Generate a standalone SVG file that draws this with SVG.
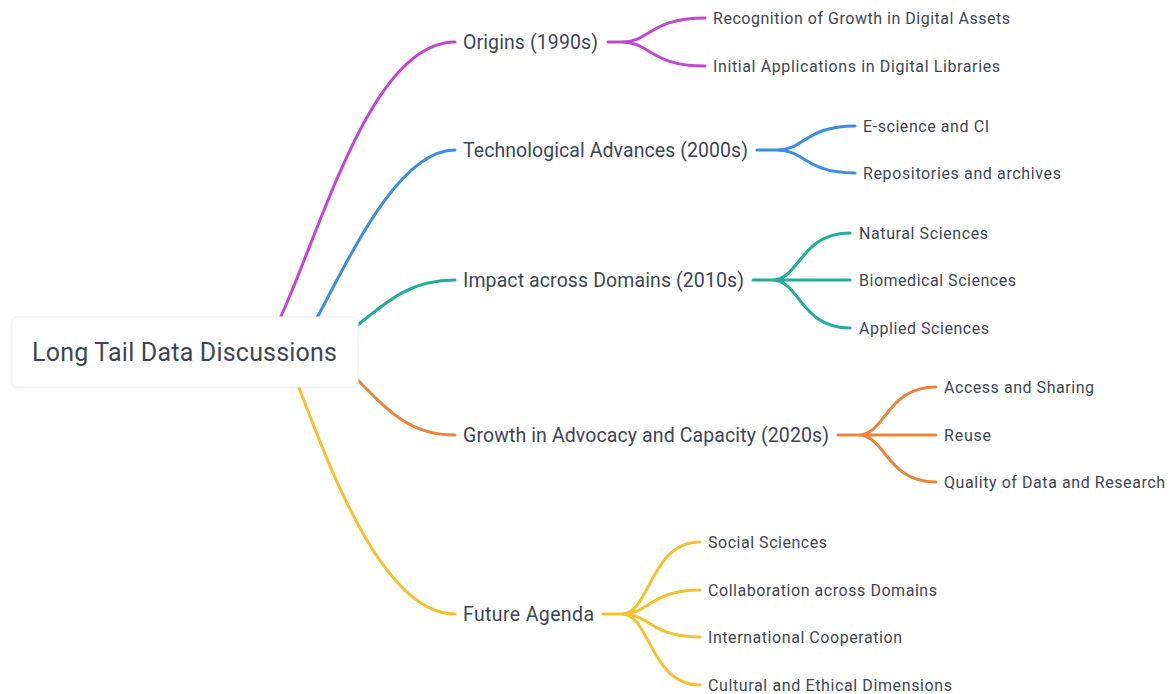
<svg xmlns="http://www.w3.org/2000/svg" width="1175" height="694" viewBox="0 0 1175 694">
<style>
.c{fill:none;stroke-width:3;stroke-linecap:round}
.m{stroke:#c246d6}.b{stroke:#3a8ee0}.t{stroke:#1fae9b}.o{stroke:#ea863c}.y{stroke:#f4c22e}
text{font-family:Roboto,"Liberation Sans",sans-serif;fill:#3d4753}
.l1{font-size:19.5px}.l2{font-size:16px}.r{font-size:25px}
</style>
<defs>
<filter id="sh" x="-10%" y="-30%" width="120%" height="160%">
<feDropShadow dx="0" dy="1" stdDeviation="2" flood-color="#000" flood-opacity="0.06"/>
</filter>
</defs>
<g id="connectors">
<path class="c m" d="M262 352C310 280 360 42 455 42"/>
<path class="c b" d="M298 352C336 290 390 150 455 150"/>
<path class="c t" d="M320 355C380 310 400 280 455 280"/>
<path class="c o" d="M330 352C380 400 400 435 455 435"/>
<path class="c y" d="M286 355C314 420 372 614 455 614"/>
<path class="c m" d="M608 42L622 42C650 42 650 18 705 18M622 42C650 42 650 66 705 66"/>
<path class="c b" d="M757 150L777 150C805 150 805 126 855 126M777 150C805 150 805 173 855 173"/>
<path class="c t" d="M753 280L772 280C800 280 800 233 850 233M772 280L850 280M772 280C800 280 800 328 850 328"/>
<path class="c o" d="M838 435L858 435C886 435 886 387 936 387M858 435L936 435M858 435C886 435 886 482 936 482"/>
<path class="c y" d="M603 614L622 614C650 614 650 542 700 542M622 614C650 614 650 590 700 590M622 614C650 614 650 637 700 637M622 614C650 614 650 685 700 685"/>
</g>
<g id="root">
<rect x="12" y="317" width="346" height="70" rx="6" fill="#fff" stroke="#eeeeee" filter="url(#sh)"/>
<text class="r" x="32" y="361" textLength="305">Long Tail Data Discussions</text>
</g>
<g id="origins"><text class="l1" x="463" y="49" textLength="135">Origins (1990s)</text></g>
<g id="tech"><text class="l1" x="463" y="157" textLength="285">Technological Advances (2000s)</text></g>
<g id="impact"><text class="l1" x="463" y="287" textLength="281">Impact across Domains (2010s)</text></g>
<g id="growth"><text class="l1" x="463" y="442" textLength="366">Growth in Advocacy and Capacity (2020s)</text></g>
<g id="future"><text class="l1" x="463" y="621" textLength="131">Future Agenda</text></g>
<g id="o1"><text class="l2" x="713" y="24" textLength="297">Recognition of Growth in Digital Assets</text></g>
<g id="o2"><text class="l2" x="713" y="72" textLength="287">Initial Applications in Digital Libraries</text></g>
<g id="t1"><text class="l2" x="863" y="132" textLength="126">E-science and CI</text></g>
<g id="t2"><text class="l2" x="863" y="179" textLength="198">Repositories and archives</text></g>
<g id="i1"><text class="l2" x="859" y="239" textLength="129">Natural Sciences</text></g>
<g id="i2"><text class="l2" x="859" y="286" textLength="157">Biomedical Sciences</text></g>
<g id="i3"><text class="l2" x="859" y="334" textLength="130">Applied Sciences</text></g>
<g id="g1"><text class="l2" x="944" y="393" textLength="150">Access and Sharing</text></g>
<g id="g2"><text class="l2" x="944" y="441" textLength="47">Reuse</text></g>
<g id="g3"><text class="l2" x="944" y="488" textLength="221">Quality of Data and Research</text></g>
<g id="f1"><text class="l2" x="708" y="548" textLength="119">Social Sciences</text></g>
<g id="f2"><text class="l2" x="708" y="596" textLength="229">Collaboration across Domains</text></g>
<g id="f3"><text class="l2" x="708" y="643" textLength="194">International Cooperation</text></g>
<g id="f4"><text class="l2" x="708" y="691" textLength="244">Cultural and Ethical Dimensions</text></g>
</svg>
